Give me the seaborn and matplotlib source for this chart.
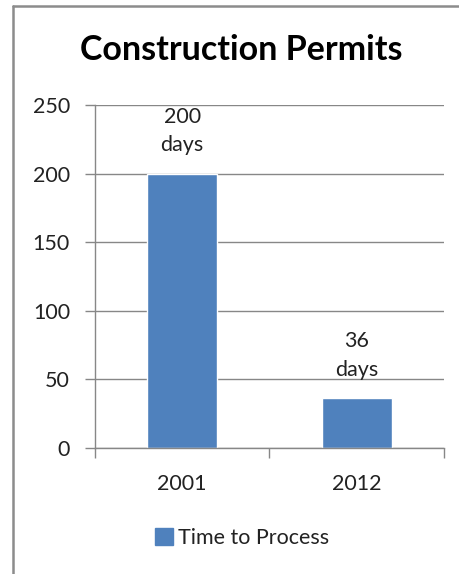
import matplotlib
matplotlib.use("Agg")
import matplotlib.pyplot as plt
from matplotlib.lines import Line2D
from matplotlib.patches import Patch
import seaborn as sns
import pandas as pd

# chart values
years = ["2001", "2012"]
days = [200, 36]
series_name = "Time to Process"
y_ticks = [0, 50, 100, 150, 200, 250]

df = pd.DataFrame({"year": years, "days": days})

sns.set_theme(style="white")
plt.rcParams["font.family"] = ["Lato", "DejaVu Sans"]

bar_color = "#4F81BD"
grid_color = "#878787"
text_color = "#222222"
fs = 15.5

fig = plt.figure(figsize=(4.6, 5.74), dpi=100)
ax = fig.add_axes([95 / 460, 1 - 447.7 / 574, (444 - 95) / 460, (447.7 - 105) / 574])

sns.barplot(data=df, x="year", y="days", color=bar_color, width=0.4,
            saturation=1, ax=ax)

ax.set_ylim(0, 250)
ax.set_xlim(-0.5, 1.5)
ax.set_yticks(y_ticks)
ax.set_xlabel("")
ax.set_ylabel("")

ax.yaxis.grid(True, color=grid_color, linewidth=1)
ax.set_axisbelow(True)
for side in ["top", "right"]:
    ax.spines[side].set_visible(False)
for side in ["left", "bottom"]:
    ax.spines[side].set_color(grid_color)
    ax.spines[side].set_linewidth(1)

ax.tick_params(axis="y", which="major", left=True, length=7, width=1,
               color=grid_color, labelsize=fs, labelcolor=text_color, pad=11)
ax.tick_params(axis="x", which="major", bottom=False, length=0, labelsize=fs,
               labelcolor=text_color, pad=19)
ax.set_xticks([-0.5, 0.5, 1.5], minor=True)
ax.tick_params(axis="x", which="minor", bottom=True, length=7, width=1,
               color=grid_color)
for sp in ax.spines.values():
    sp.set_clip_on(False)

# data labels
for i, v in enumerate(days):
    ax.annotate(f"{v}\ndays", xy=(i, v), xytext=(0, 13), textcoords="offset points",
                ha="center", va="bottom", fontsize=fs, color=text_color,
                linespacing=1.55)

fig.text(241 / 460, 1 - 50 / 574, "Construction Permits", ha="center", va="center",
         fontsize=24.5, fontweight="bold", color="#000000")

handles = [Patch(facecolor=bar_color, edgecolor=bar_color)]
fig.legend(handles, [series_name], loc="center", bbox_to_anchor=(242 / 460, 1 - 538 / 574),
           frameon=False, fontsize=fs, handlelength=0.85, handleheight=0.85,
           handletextpad=0.25, labelcolor=text_color)

# chart area border
border_color = "#8c8c8c"
fig.add_artist(Line2D([13 / 460, 13 / 460], [0, 1 - 6 / 574], color=border_color,
                      linewidth=1.8, transform=fig.transFigure))
fig.add_artist(Line2D([13 / 460, 1], [1 - 6 / 574, 1 - 6 / 574], color=border_color,
                      linewidth=1.8, transform=fig.transFigure))

fig.savefig("out.png", dpi=100)
